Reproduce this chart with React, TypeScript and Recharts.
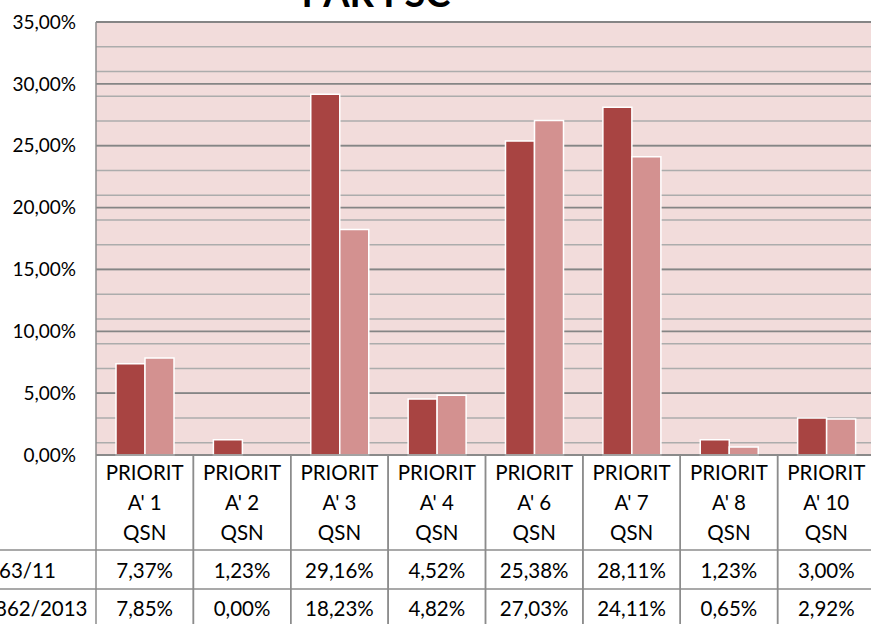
import React from 'react';
import { BarChart, Bar, XAxis, YAxis, CartesianGrid } from 'recharts';

const categories = [
  "PRIORITA' 1 QSN",
  "PRIORITA' 2 QSN",
  "PRIORITA' 3 QSN",
  "PRIORITA' 4 QSN",
  "PRIORITA' 6 QSN",
  "PRIORITA' 7 QSN",
  "PRIORITA' 8 QSN",
  "PRIORITA' 10 QSN",
];
const seriesNames = ['63/11', '862/2013'];
const series1 = [7.37, 1.23, 29.16, 4.52, 25.38, 28.11, 1.23, 3.0];
const series2 = [7.85, 0.0, 18.23, 4.82, 27.03, 24.11, 0.65, 2.92];
const yTicks = [0, 5, 10, 15, 20, 25, 30, 35];
const minorTicks = Array.from({ length: 36 }, (_, i) => i);

const data = categories.map((name, i) => ({
  name,
  s1: series1[i],
  s2: series2[i],
}));

const FONT = 'Lato, "Open Sans", sans-serif';
const LINE = '#8c8c8c';
const CHART_W = 875;
const CHART_H = 624;
const PLOT_LEFT = 96;
const CELL_W = (CHART_W - PLOT_LEFT) / categories.length;

const fmt = (v: number) => v.toFixed(2).replace('.', ',') + '%';

// the data table under the plot, drawn one column per tick
const TableTick = (props: any) => {
  const { x, y, payload, index } = props;
  const label: string = payload.value;
  const lines = [label.slice(0, 7), label.slice(7, -4), 'QSN'];
  const left = x - CELL_W / 2;
  const right = x + CELL_W / 2;
  const top = y;
  const bottom = CHART_H + 10;
  return (
    <g fontFamily={FONT} fontSize={20.5} fill="#000">
      <line x1={left} y1={top} x2={left} y2={bottom} stroke={LINE} strokeWidth={1.5} />
      <line x1={right} y1={top} x2={right} y2={bottom} stroke={LINE} strokeWidth={1.5} />
      <line x1={left} y1={top} x2={right} y2={top} stroke={LINE} strokeWidth={1.5} />
      <line x1={index === 0 ? 0 : left} y1={top + 95} x2={right} y2={top + 95} stroke={LINE} strokeWidth={1.5} />
      <line x1={index === 0 ? 0 : left} y1={top + 134} x2={right} y2={top + 134} stroke={LINE} strokeWidth={1.5} />
      {lines.map((t, k) => (
        <text key={k} x={x} y={top + 24.5 + k * 30} textAnchor="middle">
          {t}
        </text>
      ))}
      <text x={x} y={top + 122.5} textAnchor="middle">{fmt(series1[index])}</text>
      <text x={x} y={top + 160.5} textAnchor="middle">{fmt(series2[index])}</text>
      {index === 0 && (
        <>
          <text x={-1} y={top + 122.5}>{seriesNames[0]}</text>
          <text x={-5} y={top + 160.5}>{seriesNames[1]}</text>
        </>
      )}
    </g>
  );
};

export default function App() {
  return (
    <div
      style={{
        position: 'absolute',
        left: 0,
        top: 0,
        width: 871,
        height: 624,
        overflow: 'hidden',
        background: '#fff',
      }}
    >
      <BarChart
        width={CHART_W}
        height={CHART_H}
        data={data}
        margin={{ top: 22, right: 0, bottom: 0, left: 0 }}
        barCategoryGap={20}
        barGap={0}
      >
        <text x={376} y={7} textAnchor="middle" fontFamily={FONT} fontWeight="bold" fontSize={38} fill="#000">
          PAR FSC
        </text>
        <CartesianGrid
          vertical={false}
          horizontalValues={minorTicks}
          stroke="#acacac"
          strokeWidth={1.5}
          fill="#f2dcdb"
          fillOpacity={1}
        />
        <CartesianGrid vertical={false} stroke="#858585" strokeWidth={1.8} />
        <XAxis
          dataKey="name"
          height={169}
          tickSize={0}
          tickMargin={0}
          axisLine={false}
          interval={0}
          tick={<TableTick />}
        />
        <YAxis
          width={PLOT_LEFT}
          domain={[0, 35]}
          ticks={yTicks}
          tickFormatter={fmt}
          tickSize={0}
          tickMargin={20}
          tickLine={false}
          axisLine={{ stroke: LINE, strokeWidth: 1.5 }}
          tick={{ fontFamily: FONT, fontSize: 19, fill: '#000' }}
        />
        <Bar dataKey="s1" fill="#a84442" stroke="#fff" strokeWidth={1.5} isAnimationActive={false} />
        <Bar dataKey="s2" fill="#d39190" stroke="#fff" strokeWidth={1.5} isAnimationActive={false} />
      </BarChart>
    </div>
  );
}
